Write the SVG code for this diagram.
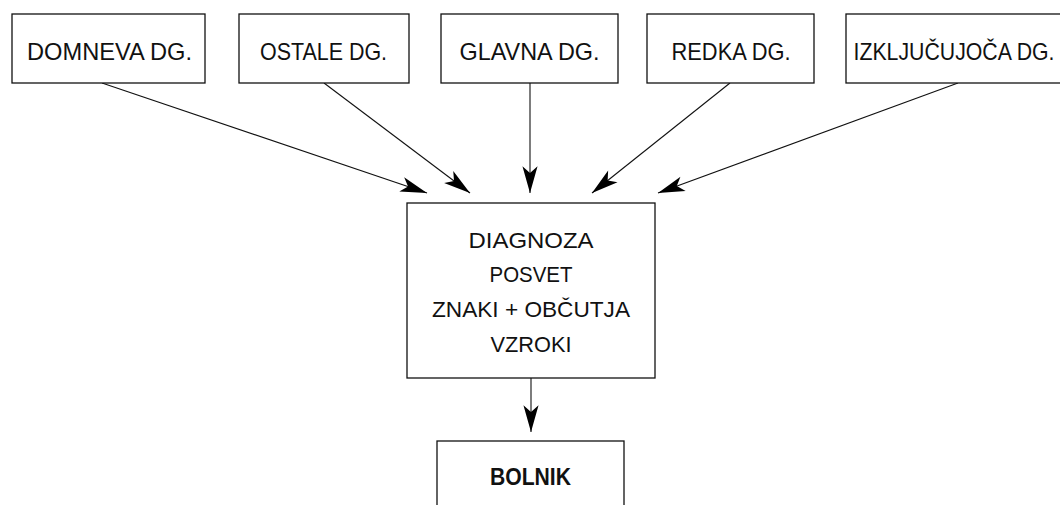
<svg xmlns="http://www.w3.org/2000/svg" width="1060" height="505" viewBox="0 0 1060 505">
<style>
.box{fill:#fff;stroke:#111;stroke-width:1.3}
.t{font-family:"Liberation Sans",Arial,sans-serif;font-size:24.5px;fill:#111;text-anchor:middle}
.c{font-size:22.5px}
.b{font-weight:bold;font-size:23.5px}
.con{stroke:#111;stroke-width:1.1;fill:none;marker-end:url(#ah)}
</style>
<defs>
<marker id="ah" markerUnits="userSpaceOnUse" markerWidth="30" markerHeight="20" viewBox="-25 -8 27 16" refX="0" refY="0" orient="auto">
<path d="M0,0 L-24,-6.8 L-18,0 L-24,6.8 Z" fill="#000"/>
</marker>
</defs>
<rect width="1060" height="505" fill="#fff"/>
<g id="connectors">
<line class="con" x1="102" y1="83" x2="427" y2="193"/>
<line class="con" x1="324" y1="83" x2="470" y2="193"/>
<line class="con" x1="530" y1="83" x2="530" y2="193"/>
<line class="con" x1="730" y1="83" x2="592" y2="193"/>
<line class="con" x1="958" y1="83" x2="658" y2="193"/>
<line class="con" x1="531" y1="378" x2="531" y2="432"/>
</g>
<g id="n1"><rect class="box" x="12" y="14" width="193" height="69"/><text class="t" x="109.5" y="59.5" textLength="165" lengthAdjust="spacingAndGlyphs">DOMNEVA DG.</text></g>
<g id="n2"><rect class="box" x="239" y="14" width="170" height="69"/><text class="t" x="323.5" y="59.5" textLength="127" lengthAdjust="spacingAndGlyphs">OSTALE DG.</text></g>
<g id="n3"><rect class="box" x="441" y="14" width="177" height="69"/><text class="t" x="529.5" y="59.5" textLength="140" lengthAdjust="spacingAndGlyphs">GLAVNA DG.</text></g>
<g id="n4"><rect class="box" x="647" y="14" width="167" height="69"/><text class="t" x="731" y="59.5" textLength="119" lengthAdjust="spacingAndGlyphs">REDKA DG.</text></g>
<g id="n5"><rect class="box" x="846" y="14" width="215" height="69"/><text class="t" x="954" y="59.5" textLength="201" lengthAdjust="spacingAndGlyphs">IZKLJUČUJOČA DG.</text></g>
<g id="center"><rect class="box" x="407" y="203" width="248" height="175"/>
<text class="t c" x="531" y="248.3" textLength="125" lengthAdjust="spacingAndGlyphs">DIAGNOZA</text>
<text class="t c" x="531" y="281.7" textLength="83" lengthAdjust="spacingAndGlyphs">POSVET</text>
<text class="t c" x="531" y="316.7" textLength="198" lengthAdjust="spacingAndGlyphs">ZNAKI + OBČUTJA</text>
<text class="t c" x="531" y="351.7" textLength="81" lengthAdjust="spacingAndGlyphs">VZROKI</text>
</g>
<g id="bolnik"><rect class="box" x="437" y="441" width="187" height="70"/><text class="t b" x="530.5" y="485" textLength="81" lengthAdjust="spacingAndGlyphs">BOLNIK</text></g>
</svg>
